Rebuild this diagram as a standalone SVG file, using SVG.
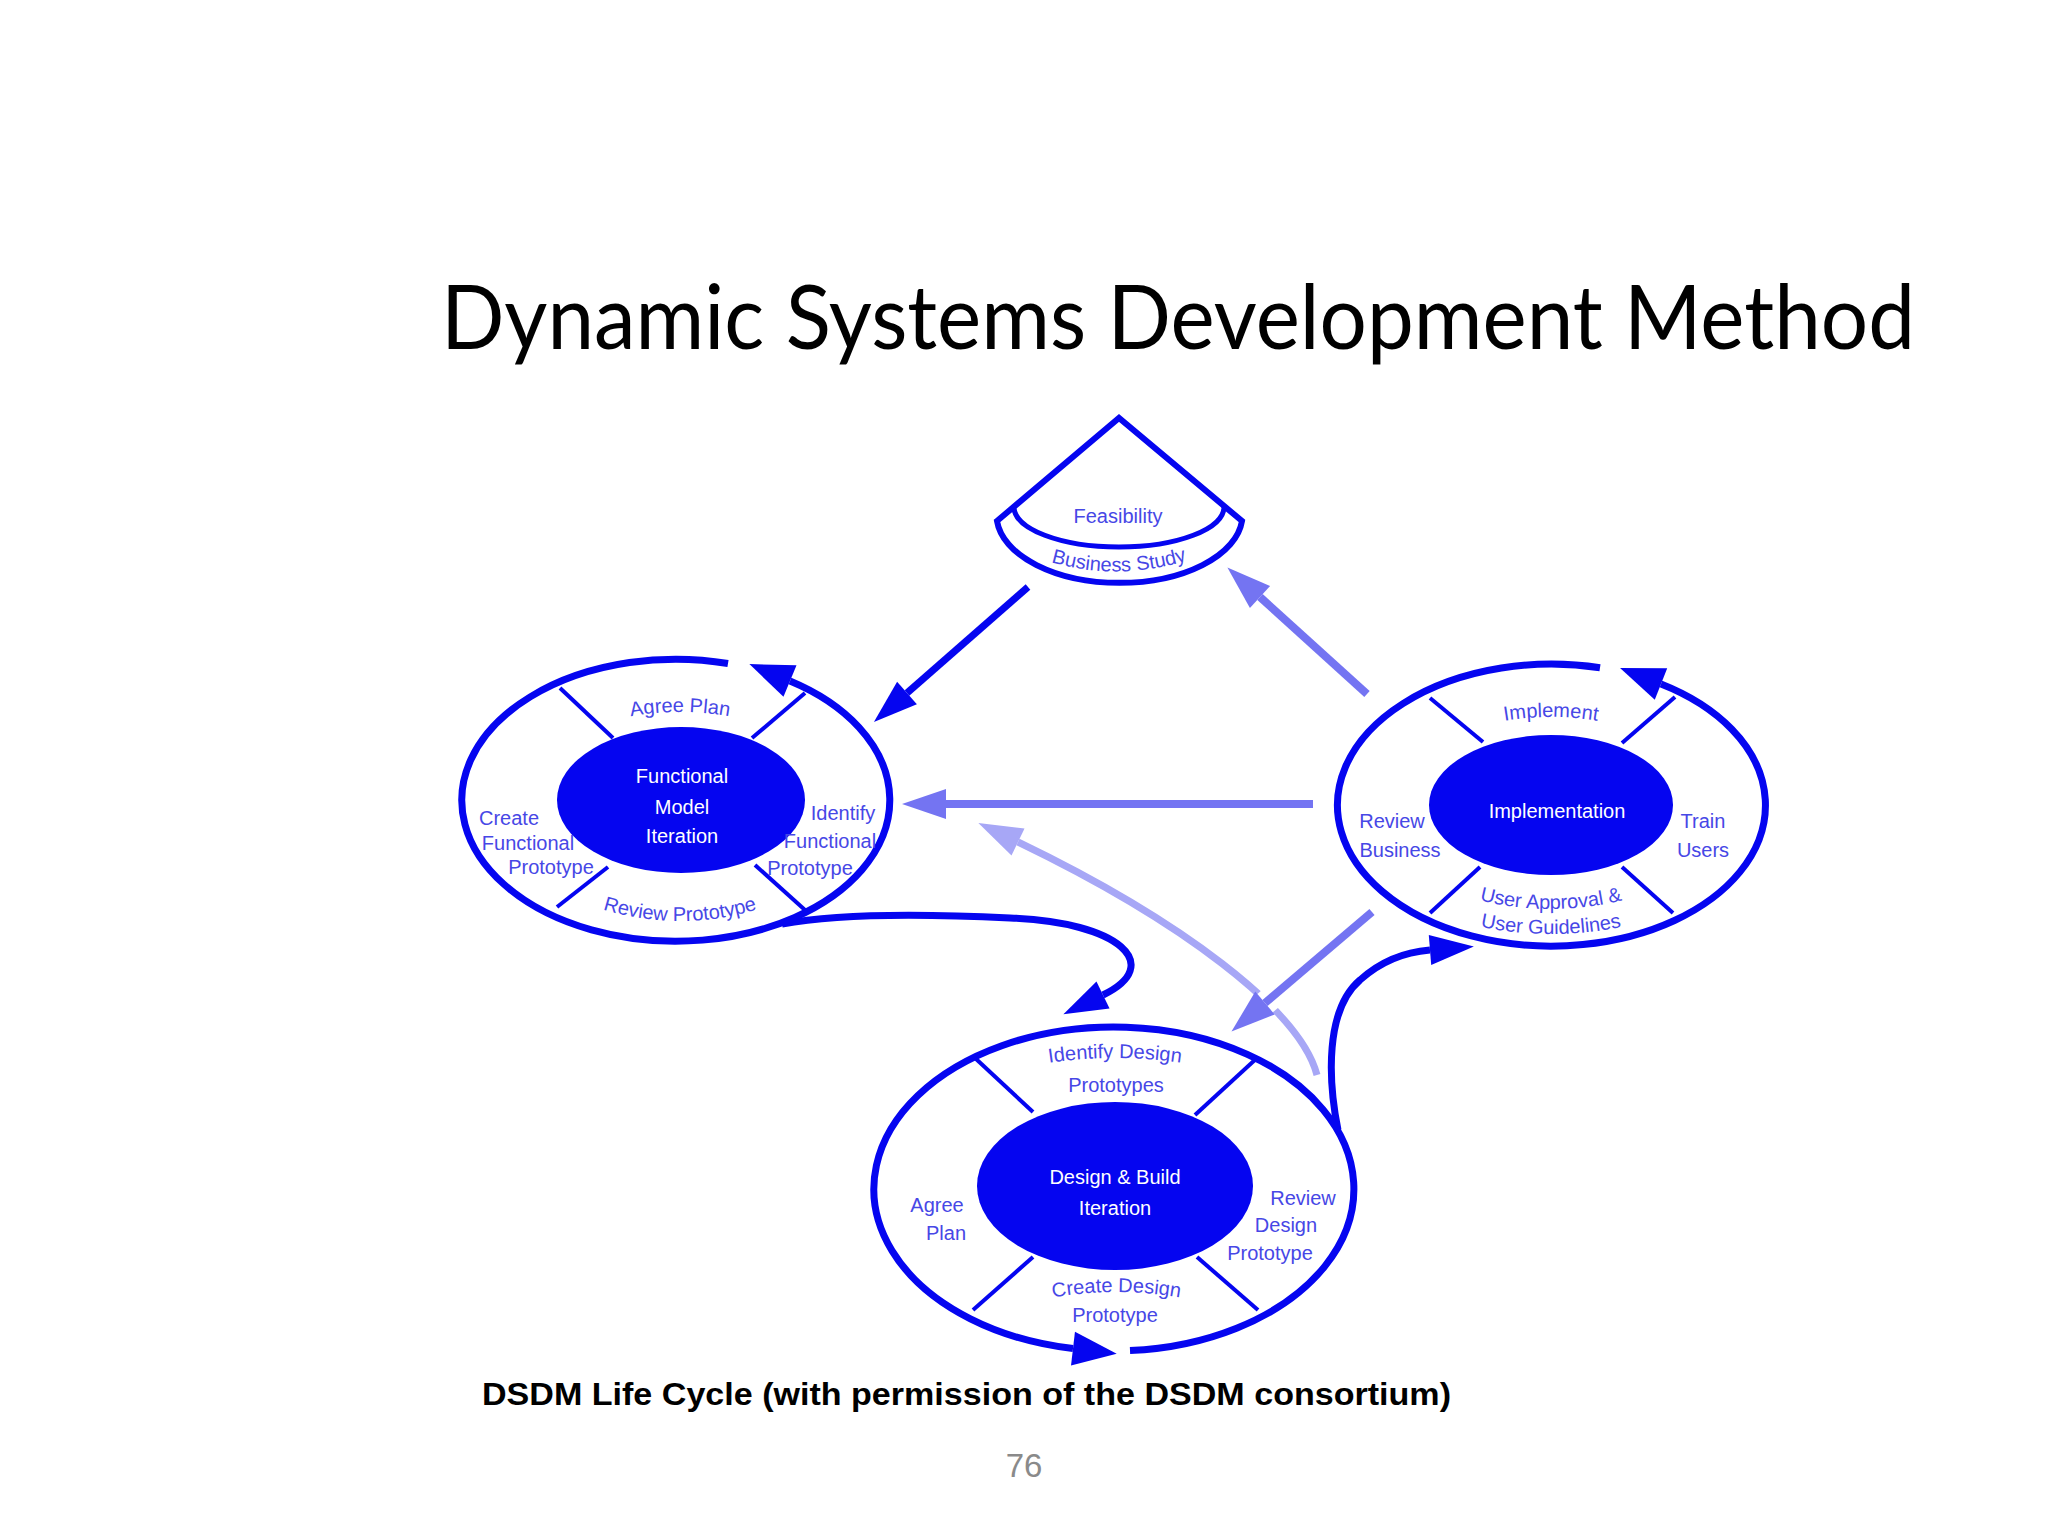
<svg xmlns="http://www.w3.org/2000/svg" width="2048" height="1536" viewBox="0 0 2048 1536">
<style>
.ring{fill:none;stroke:#0505f0;stroke-width:7}
.spoke{stroke:#0505f0;stroke-width:4}
.core{fill:#0505f0}
.lbl{font-family:"Liberation Sans",Arial,sans-serif;font-size:20px;fill:#4747e6;text-anchor:middle}
.clbl{font-family:"Liberation Sans",Arial,sans-serif;font-size:20px;fill:#ffffff;text-anchor:middle}
.dark{fill:none;stroke:#0505f0;stroke-width:7}
.mid{fill:none;stroke:#7474f2;stroke-width:8}
.light{fill:none;stroke:#a7a7f6;stroke-width:7}
</style>
<defs>
<marker id="ahRing" markerUnits="userSpaceOnUse" markerWidth="44" markerHeight="34" refX="0" refY="17" orient="auto" overflow="visible"><path d="M0,0 L44,17 L0,34 Z" fill="#0505f0"/></marker>
<marker id="ahDark" markerUnits="userSpaceOnUse" markerWidth="44" markerHeight="30" refX="0" refY="15" orient="auto" overflow="visible"><path d="M0,0 L44,15 L0,30 Z" fill="#0505f0"/></marker>
<marker id="ahMid" markerUnits="userSpaceOnUse" markerWidth="44" markerHeight="30" refX="0" refY="15" orient="auto" overflow="visible"><path d="M0,0 L44,15 L0,30 Z" fill="#7474f2"/></marker>
<marker id="ahLight" markerUnits="userSpaceOnUse" markerWidth="44" markerHeight="30" refX="0" refY="15" orient="auto" overflow="visible"><path d="M0,0 L44,15 L0,30 Z" fill="#a7a7f6"/></marker>
<path id="tpBusiness" d="M 1038 558 Q 1118 586 1200 556"/>
<path id="tpAgree" d="M 520 801 A 160 89 0 0 1 840 801"/>
<path id="tpReview" d="M 500 801 A 180 120 0 0 0 860 801"/>
<path id="tpImplement" d="M 1391 805 A 160 88 0 0 1 1711 805"/>
<path id="tpApproval" d="M 1373 805 A 178 104 0 0 0 1729 805"/>
<path id="tpGuide" d="M 1337 805 A 214 129 0 0 0 1765 805"/>
<path id="tpIdentify" d="M 1030 1066 Q 1115 1050 1200 1066"/>
<path id="tpCreate" d="M 1045 1299 Q 1115 1285 1188 1299"/>
</defs>
<rect width="2048" height="1536" fill="#ffffff"/>

<text x="441" y="349" font-family="Lato,'Open Sans',sans-serif" font-size="90" fill="#000000" textLength="1474" lengthAdjust="spacingAndGlyphs">Dynamic Systems Development Method</text>

<g id="connectors">
<path class="light" d="M 1317 1075 C 1300 1010 1180 920 1018 842" marker-end="url(#ahLight)"/>
<line x1="1305" y1="969" x2="1250" y2="1016" stroke="#ffffff" stroke-width="24"/>
<line class="dark" x1="1028" y1="587" x2="907" y2="693" marker-end="url(#ahDark)"/>
<line class="mid" x1="1367" y1="694" x2="1260" y2="597" marker-end="url(#ahMid)"/>
<line class="mid" x1="1313" y1="804" x2="946" y2="804" marker-end="url(#ahMid)"/>
<line class="mid" x1="1372" y1="912" x2="1265" y2="1003" marker-end="url(#ahMid)"/>
<path class="dark" d="M 782 924 C 840 913 930 914 1010 918 C 1120 922 1165 965 1103 995" marker-end="url(#ahDark)"/>
<path class="dark" d="M 1338 1130 C 1328 1080 1325 1010 1360 980 C 1380 962 1405 952 1430 950" marker-end="url(#ahDark)"/>
</g>

<g id="node-feasibility">
<path d="M 997 521 L 1119 418 L 1242 521 A 123 68 0 0 1 997 521 Z" fill="none" stroke="#0505f0" stroke-width="6"/>
<path d="M 1014 507 A 105 40 0 0 0 1224 507" fill="none" stroke="#0505f0" stroke-width="5"/>
<text class="lbl" x="1118" y="523" font-size="19">Feasibility</text>
<text class="lbl" font-size="20"><textPath href="#tpBusiness" startOffset="50%">Business Study</textPath></text>
</g>

<g id="node-functional">
<path class="ring" d="M 728 663.5 A 214 141 0 1 0 790 681" marker-end="url(#ahRing)"/>
<line class="spoke" x1="560" y1="688" x2="613" y2="738"/>
<line class="spoke" x1="805" y1="693" x2="752" y2="738"/>
<line class="spoke" x1="557" y1="907" x2="608" y2="867"/>
<line class="spoke" x1="805" y1="910" x2="755" y2="865"/>
<ellipse class="core" cx="681" cy="800" rx="124" ry="73"/>
<text class="lbl"><textPath href="#tpAgree" startOffset="50%">Agree Plan</textPath></text>
<text class="lbl" font-size="21"><textPath href="#tpReview" startOffset="50%">Review Prototype</textPath></text>
<text class="clbl" x="682" y="783" font-size="19">Functional</text>
<text class="clbl" x="682" y="814" font-size="19">Model</text>
<text class="clbl" x="682" y="843" font-size="19">Iteration</text>
<text class="lbl" x="509" y="825" font-size="17">Create</text>
<text class="lbl" x="528" y="850" font-size="17">Functional</text>
<text class="lbl" x="551" y="874" font-size="17">Prototype</text>
<text class="lbl" x="843" y="820" font-size="17">Identify</text>
<text class="lbl" x="830" y="848" font-size="17">Functional</text>
<text class="lbl" x="810" y="875" font-size="17">Prototype</text>
</g>

<g id="node-implementation">
<path class="ring" d="M 1600 667.8 A 214 141 0 1 0 1661 684" marker-end="url(#ahRing)"/>
<line class="spoke" x1="1430" y1="698" x2="1483" y2="742"/>
<line class="spoke" x1="1675" y1="697" x2="1622" y2="743"/>
<line class="spoke" x1="1430" y1="913" x2="1480" y2="867"/>
<line class="spoke" x1="1673" y1="913" x2="1622" y2="867"/>
<ellipse class="core" cx="1551" cy="805" rx="122" ry="70"/>
<text class="lbl" font-size="22"><textPath href="#tpImplement" startOffset="50%">Implement</textPath></text>
<text class="clbl" x="1557" y="818" font-size="22">Implementation</text>
<text class="lbl" x="1392" y="828">Review</text>
<text class="lbl" x="1400" y="857">Business</text>
<text class="lbl" x="1703" y="828">Train</text>
<text class="lbl" x="1703" y="857">Users</text>
<text class="lbl" font-size="20"><textPath href="#tpApproval" startOffset="50%">User Approval &amp;</textPath></text>
<text class="lbl" font-size="20"><textPath href="#tpGuide" startOffset="50%">User Guidelines</textPath></text>
</g>

<g id="node-design">
<path class="ring" d="M 1130 1350.6 A 240 162 0 1 0 1073 1348.6" marker-end="url(#ahRing)"/>
<line class="spoke" x1="975" y1="1058" x2="1033" y2="1112"/>
<line class="spoke" x1="1257" y1="1058" x2="1195" y2="1115"/>
<line class="spoke" x1="973" y1="1310" x2="1033" y2="1257"/>
<line class="spoke" x1="1258" y1="1310" x2="1197" y2="1257"/>
<ellipse class="core" cx="1115" cy="1186" rx="138" ry="84"/>
<text class="lbl" font-size="22"><textPath href="#tpIdentify" startOffset="50%">Identify Design</textPath></text>
<text class="lbl" x="1116" y="1092" font-size="21">Prototypes</text>
<text class="clbl" x="1115" y="1184" font-size="21">Design &amp; Build</text>
<text class="clbl" x="1115" y="1215" font-size="21">Iteration</text>
<text class="lbl" x="937" y="1212">Agree</text>
<text class="lbl" x="946" y="1240">Plan</text>
<text class="lbl" x="1303" y="1205">Review</text>
<text class="lbl" x="1286" y="1232">Design</text>
<text class="lbl" x="1270" y="1260">Prototype</text>
<text class="lbl" font-size="21"><textPath href="#tpCreate" startOffset="50%">Create Design</textPath></text>
<text class="lbl" x="1115" y="1322" font-size="21">Prototype</text>
</g>

<text x="482" y="1405" font-family="'Liberation Sans',Arial,sans-serif" font-size="32" font-weight="bold" fill="#000000" textLength="969" lengthAdjust="spacingAndGlyphs">DSDM Life Cycle (with permission of the DSDM consortium)</text>
<text x="1024" y="1477" font-family="'Liberation Sans',Arial,sans-serif" font-size="33" fill="#8a8a8a" text-anchor="middle">76</text>
</svg>
